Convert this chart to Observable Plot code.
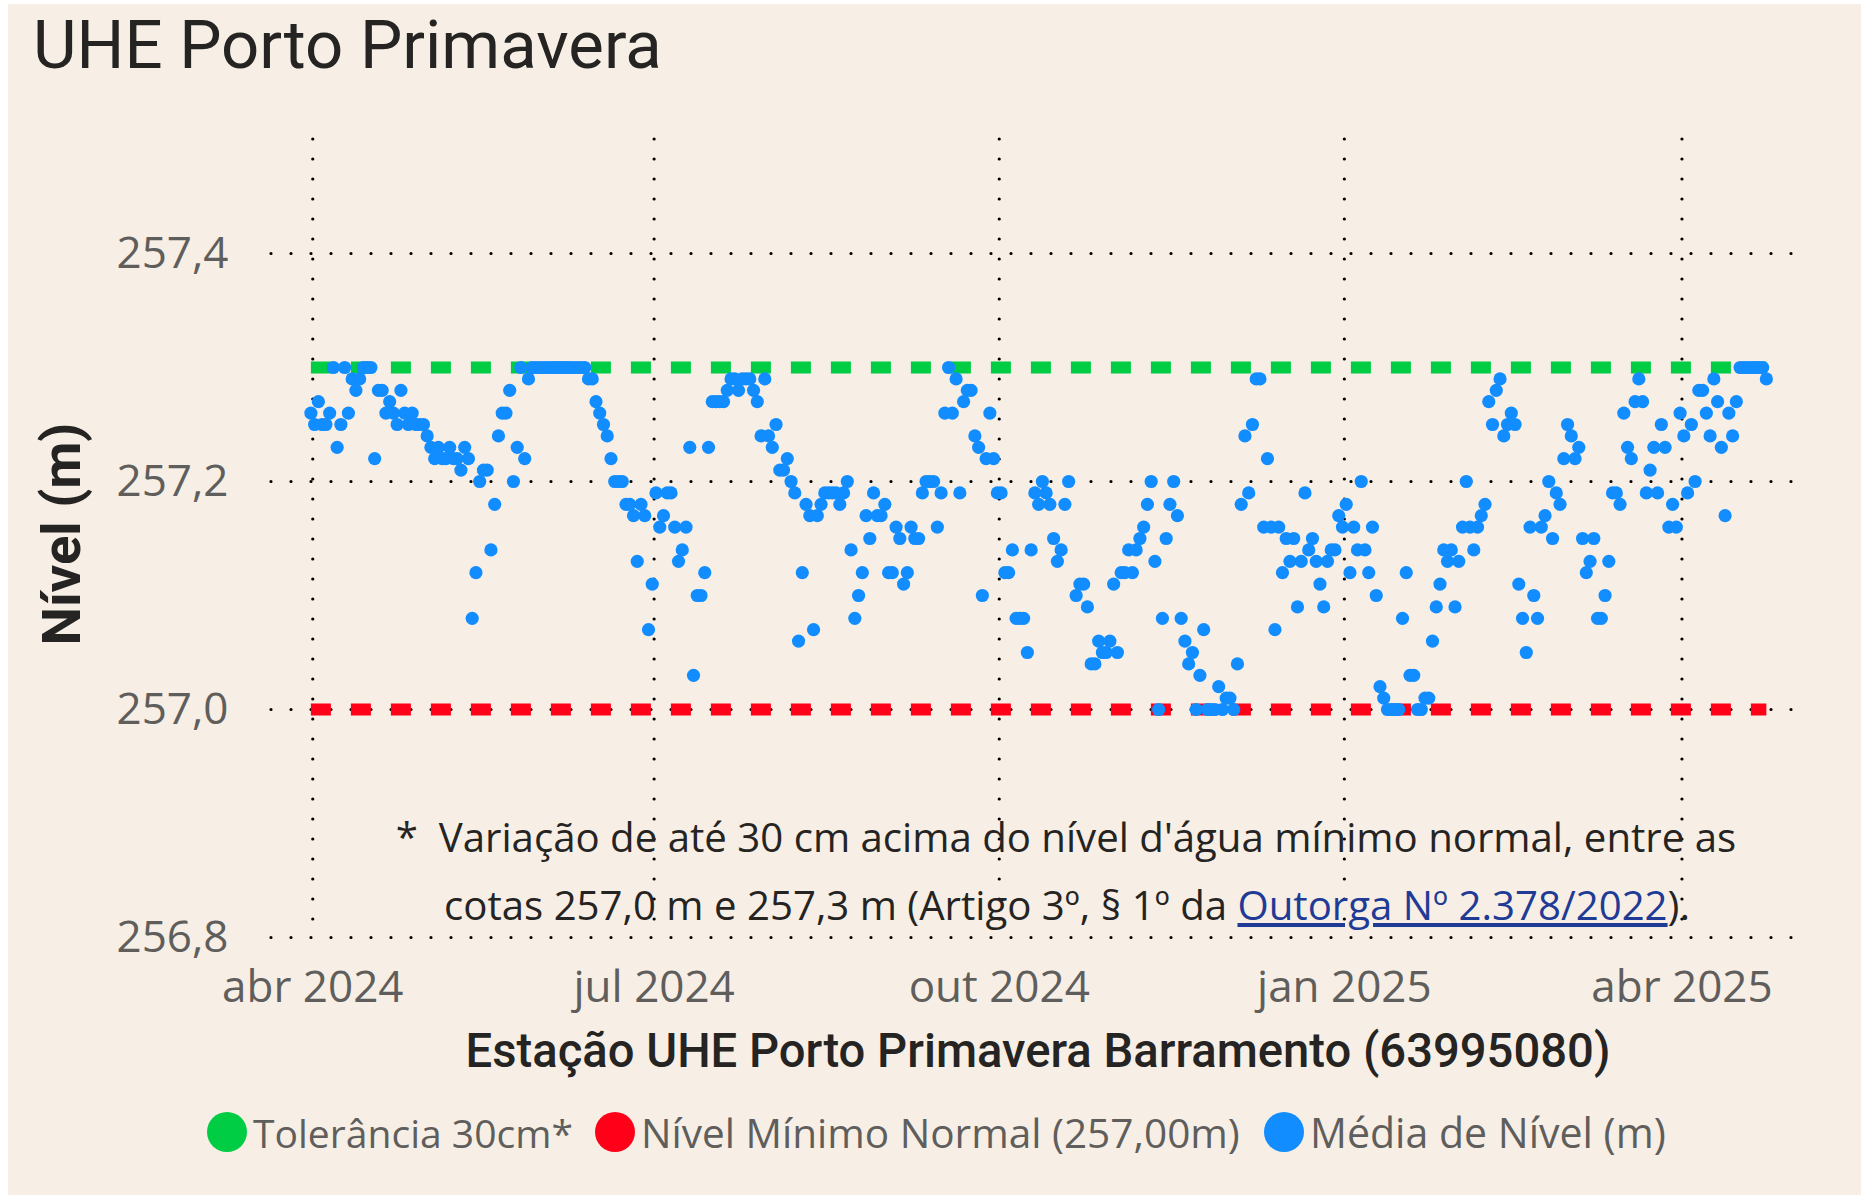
<!DOCTYPE html>
<html><head><meta charset="utf-8">
<script src="https://cdn.jsdelivr.net/npm/d3@7"></script>
<script src="https://cdn.jsdelivr.net/npm/@observablehq/plot@0.6"></script>
<style>
html,body{margin:0;padding:0;background:#fff;}
#wrap{position:relative;width:1869px;height:1199px;background:#fff;overflow:hidden;}
#panel{position:absolute;left:8px;top:4px;width:1853px;height:1191px;background:#F7EFE5;}
#chart{position:absolute;left:0;top:0;}
#overlay{position:absolute;left:0;top:0;}
</style></head><body>
<div id="wrap"><div id="panel"></div><div id="chart"></div><svg id="overlay" width="1869" height="1199"></svg></div>
<script>
// ---- data ----
const titulo = "UHE Porto Primavera";
const tituloEixoX = "Estação UHE Porto Primavera Barramento (63995080)";
const tituloEixoY = "Nível (m)";
const dataInicial = "2024-03-31"; // first daily reading
// daily mean level (m), one value per day starting at dataInicial (null = no reading)
const nivel = [
257.26,257.25,257.27,257.25,257.25,257.26,257.30,257.23,257.25,257.30,
257.26,257.29,257.28,257.29,257.30,257.30,257.30,257.22,257.28,257.28,
257.26,257.27,257.26,257.25,257.28,257.26,257.25,257.26,257.25,257.25,
257.25,257.24,257.23,257.22,257.23,257.22,257.22,257.23,257.22,257.22,
257.21,257.23,257.22,257.08,257.12,257.20,257.21,257.21,257.14,257.18,
257.24,257.26,257.26,257.28,257.20,257.23,257.30,257.22,257.29,257.30,
257.30,257.30,257.30,257.30,257.30,257.30,257.30,257.30,257.30,257.30,
257.30,257.30,257.30,257.30,257.29,257.29,257.27,257.26,257.25,257.24,
257.22,257.20,257.20,257.20,257.18,257.18,257.17,257.13,257.18,257.17,
257.07,257.11,257.19,257.16,257.17,257.19,257.19,257.16,257.13,257.14,
257.16,257.23,257.03,257.10,257.10,257.12,257.23,257.27,257.27,257.27,
257.27,257.28,257.29,257.29,257.28,257.29,257.29,257.29,257.28,257.27,
257.24,257.29,257.24,257.23,257.25,257.21,257.21,257.22,257.20,257.19,
257.06,257.12,257.18,257.17,257.07,257.17,257.18,257.19,257.19,257.19,
257.19,257.18,257.19,257.20,257.14,257.08,257.10,257.12,257.17,257.15,
257.19,257.17,257.17,257.18,257.12,257.12,257.16,257.15,257.11,257.12,
257.16,257.15,257.15,257.19,257.20,257.20,257.20,257.16,257.19,257.26,
257.30,257.26,257.29,257.19,257.27,257.28,257.28,257.24,257.23,257.10,
257.22,257.26,257.22,257.19,257.19,257.12,257.12,257.14,257.08,257.08,
257.08,257.05,257.14,257.19,257.18,257.20,257.19,257.18,257.15,257.13,
257.14,257.18,257.20,null,257.10,257.11,257.11,257.09,257.04,257.04,
257.06,257.05,257.05,257.06,257.11,257.05,257.12,257.12,257.14,257.12,
257.14,257.15,257.16,257.18,257.20,257.13,257.00,257.08,257.15,257.18,
257.20,257.17,257.08,257.06,257.04,257.05,257.00,257.03,257.07,257.00,
257.00,257.00,257.02,257.00,257.01,257.01,257.00,257.04,257.18,257.24,
257.19,257.25,257.29,257.29,257.16,257.22,257.16,257.07,257.16,257.12,
257.15,257.13,257.15,257.09,257.13,257.19,257.14,257.15,257.13,257.11,
257.09,257.13,257.14,257.14,257.17,257.16,257.18,257.12,257.16,257.14,
257.20,257.14,257.12,257.16,257.10,257.02,257.01,257.00,257.00,257.00,
257.00,257.08,257.12,257.03,257.03,257.00,257.00,257.01,257.01,257.06,
257.09,257.11,257.14,257.13,257.14,257.09,257.13,257.16,257.20,257.16,
257.14,257.16,257.17,257.18,257.27,257.25,257.28,257.29,257.24,257.25,
257.26,257.25,257.11,257.08,257.05,257.16,257.10,257.08,257.16,257.17,
257.20,257.15,257.19,257.18,257.22,257.25,257.24,257.22,257.23,257.15,
257.12,257.13,257.15,257.08,257.08,257.10,257.13,257.19,257.19,257.18,
257.26,257.23,257.22,257.27,257.29,257.27,257.19,257.21,257.23,257.19,
257.25,257.23,257.16,257.18,257.16,257.26,257.24,257.19,257.25,257.20,
257.28,257.28,257.26,257.24,257.29,257.27,257.23,257.17,257.26,257.24,
257.27,257.30,257.30,257.30,257.30,257.30,257.30,257.30,257.29
];
const nivelTolerancia = 257.3;
const nivelMinimoNormal = 257.0;
const yTicks = [256.8, 257.0, 257.2, 257.4];
const yDominio = [256.8, 257.5];
const xTicks = ["2024-04-01", "2024-07-01", "2024-10-01", "2025-01-01", "2025-04-01"];
const xDominio = ["2024-03-21", "2025-05-01"];
const mesesPt = ["jan","fev","mar","abr","mai","jun","jul","ago","set","out","nov","dez"];
const legendaItens = ["Tolerância 30cm*", "Nível Mínimo Normal (257,00m)", "Média de Nível (m)"];
const cores = ["#00CC44", "#FF0018", "#118DFF"];
const notaLinha1 = "*  Variação de até 30 cm acima do nível d'água mínimo normal, entre as";
const notaLinha2a = "cotas 257,0 m e 257,3 m (Artigo 3º, § 1º da ";
const notaLink = "Outorga Nº 2.378/2022";
const notaLinha2b = ").";

// ---- build table ----
const d0 = new Date(dataInicial + "T00:00:00Z");
const serie = nivel.map((v, i) => ({data: d3.utcDay.offset(d0, i), nivel: v})).filter(d => d.nivel != null);
const primeiro = serie[0].data, ultimo = serie[serie.length - 1].data;
const meioDia = d => d3.utcHour.offset(d, 12);
const refTol = [{data: primeiro, v: nivelTolerancia}, {data: ultimo, v: nivelTolerancia}];
const refMin = [{data: primeiro, v: nivelMinimoNormal}, {data: ultimo, v: nivelMinimoNormal}];
const xTickDates = xTicks.map(s => new Date(s + "T00:00:00Z"));

const segoe = "'Segoe UI','Open Sans','Noto Sans',sans-serif";
const din = "'DIN','Roboto','DejaVu Sans',sans-serif";

const grid = {stroke: "#000", strokeOpacity: 1, strokeWidth: 3.2, strokeDasharray: "0,20", strokeLinecap: "round"};
const refStyle = {strokeWidth: 12, strokeDasharray: "20,20", strokeLinecap: "butt", strokeLinejoin: "miter"};

const plot = Plot.plot({
  width: 1869, height: 1000,
  marginLeft: 271, marginRight: 75, marginTop: 139, marginBottom: 63,
  style: {background: "transparent", overflow: "visible", fontFamily: segoe, fontSize: "44px"},
  x: {type: "utc", domain: xDominio.map(s => new Date(s + "T00:00:00Z"))},
  y: {domain: yDominio},
  marks: [
    Plot.gridY(yTicks, grid),
    Plot.gridX(xTickDates, grid),
    Plot.axisY(yTicks, {tickSize: 0, tickPadding: 43, label: null, fill: "#605E5C",
      tickFormat: d => d3.format(".1f")(d).replace(".", ",")}),
    Plot.axisX(xTickDates, {tickSize: 0, tickPadding: 33, label: null, fill: "#605E5C",
      tickFormat: d => `${mesesPt[d.getUTCMonth()]} ${d.getUTCFullYear()}`}),
    Plot.lineY(refTol, {x: d => meioDia(d.data), y: "v", stroke: cores[0], ...refStyle}),
    Plot.lineY(refMin, {x: d => meioDia(d.data), y: "v", stroke: cores[1], ...refStyle}),
    Plot.dot(serie, {x: d => meioDia(d.data), y: "nivel", r: 6.6, fill: cores[2], stroke: null})
  ]
});
document.getElementById("chart").appendChild(plot);

// ---- overlay texts ----
const svg = d3.select("#overlay");
function txt(x, y, s, family, weight, size, fill, anchor, target) {
  const t = svg.append("text").attr("x", x).attr("y", y).attr("text-anchor", anchor || "start")
    .style("font-family", family).style("font-weight", weight).style("font-size", size + "px")
    .style("white-space", "pre").attr("fill", fill).text(s);
  if (target) {
    const w = t.node().getComputedTextLength();
    t.style("font-size", (size * target / w) + "px");
  }
  return t;
}
// title
txt(33, 68, titulo, din, 400, 66, "#252423", "start", 629);
// y axis title (rotated)
txt(0, 0, tituloEixoY, din, 700, 50, "#252423", "middle", 223).attr("transform", "translate(80,534) rotate(-90)");
// x axis title
txt(1038, 1067, tituloEixoX, din, 500, 44, "#252423", "middle", 1145);
// footnote
const n1 = txt(1066, 852, notaLinha1, segoe, 400, 34, "#252423", "middle", 1341);
const fs = parseFloat(n1.style("font-size"));
const n2 = svg.append("text").attr("x", 1067).attr("y", 920).attr("text-anchor", "middle")
  .style("font-family", segoe).style("font-size", fs + "px").style("white-space", "pre").attr("fill", "#252423");
n2.append("tspan").text(notaLinha2a);
n2.append("tspan").attr("fill", "#1F3B96").style("text-decoration", "underline").text(notaLink);
n2.append("tspan").text(notaLinha2b);
// legend
const legX = [227, 615, 1284];
const legW = [320, 599, 356];
legendaItens.forEach((s, i) => {
  svg.append("circle").attr("cx", legX[i]).attr("cy", 1132).attr("r", 20).attr("fill", cores[i]);
  txt(legX[i] + 26, 1148, s, segoe, 400, 42, "#605E5C", "start", legW[i]);
});
</script>
</body></html>
